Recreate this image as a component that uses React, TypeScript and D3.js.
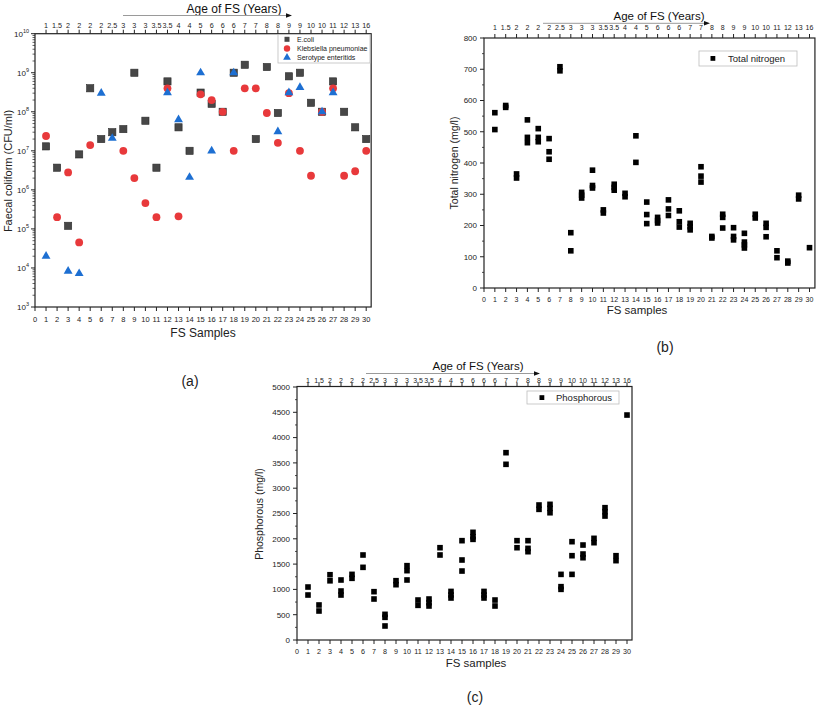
import React from 'react';
import * as d3 from 'd3';

const FONT = "Arial, 'Liberation Sans', Helvetica, sans-serif";

const samples = [1, 2, 3, 4, 5, 6, 7, 8, 9, 10, 11, 12, 13, 14, 15, 16, 17, 18, 19, 20, 21, 22, 23, 24, 25, 26, 27, 28, 29, 30];
const ageLabels = ['1', '1.5', '2', '2', '2', '2', '2.5', '3', '3', '3', '3.5', '3.5', '4', '4', '5', '6', '6', '6', '7', '7', '8', '8', '9', '9', '10', '10', '11', '12', '13', '16'];

// Panel (a): faecal coliform (CFU/ml)
const ecoli = [1.3e7, 3.7e6, 1.2e5, 8.1e6, 4e8, 2e7, 3e7, 3.6e7, 1e9, 5.9e7, 3.7e6, 6e8, 4e7, 1e7, 3.1e8, 1.6e8, 1e8, 1e9, 1.6e9, 2e7, 1.4e9, 9.3e7, 8.1e8, 1e9, 1.7e8, 1e8, 6e8, 1e8, 4e7, 2e7];
const klebsiella: (number | null)[] = [2.4e7, 2e5, 2.8e6, 4.5e4, 1.4e7, null, null, 1e7, 2e6, 4.6e5, 2e5, 4e8, 2.1e5, null, 2.8e8, 2e8, 1e8, 1e7, 4e8, 4e8, 9.3e7, 1.6e7, 3e8, 1e7, 2.3e6, 1e8, 4e8, 2.3e6, 3e6, 1e7];
const serotype: (number | null)[] = [2e4, null, 8.3e3, 7.2e3, null, 3e8, 2.1e7, null, null, null, null, 3.1e8, 6.3e7, 2.1e6, 1e9, 1e7, null, 1e9, null, null, null, 3.1e7, 3.1e8, 4.2e8, null, 1e8, 3.1e8, null, null, null];
const logDecades = [3, 4, 5, 6, 7, 8, 9, 10];

// Panel (b): total nitrogen (mg/l), replicate readings per sample
const nitrogen = [
  [561, 507], [578, 584], [365, 352], [538, 482, 465], [510, 482, 468],
  [478, 436, 412], [708, 695], [177, 119], [306, 297, 288], [377, 328, 320],
  [250, 240], [332, 322, 313], [303, 292], [487, 402], [275, 235, 206],
  [226, 216, 208], [282, 253, 232], [247, 212, 195], [207, 196, 186], [388, 358, 339],
  [165, 160], [236, 226, 192], [193, 165, 154], [175, 147, 138, 128], [236, 224],
  [207, 194, 164], [119, 97], [86, 80], [297, 285], [129],
];
const nitrogenTicks = [0, 100, 200, 300, 400, 500, 600, 700, 800];

// Panel (c): phosphorous (mg/l)
const phosphorous = [
  [1047, 889], [692, 573], [1290, 1170], [1186, 968, 889], [1297, 1219],
  [1680, 1436], [955, 810], [507, 448, 277], [1172, 1093], [1469, 1370, 1186],
  [790, 685], [810, 737, 672], [1824, 1680], [960, 890, 830], [1963, 1581, 1363],
  [2128, 2041, 1989], [960, 889, 830], [790, 672], [3702, 3472], [1963, 1824],
  [1963, 1811, 1745], [2668, 2582], [2681, 2602, 2515], [1297, 1054, 1001], [1943, 1666, 1297],
  [1877, 1699, 1626], [2009, 1923], [2615, 2536, 2450], [1666, 1568], [4446],
];
const phosTicks = [0, 500, 1000, 1500, 2000, 2500, 3000, 3500, 4000, 4500, 5000];

const xTickVals = [0, ...samples];
const AXIS = '#222';

type Sc = d3.ScaleLinear<number, number>;

function FrameX({ x, y0, y1, xRight, labelY, fs }: { x: Sc; y0: number; y1: number; xRight: number; labelY: number; fs: number }) {
  const x0 = x(0);
  return (
    <g>
      <rect x={x0} y={y1} width={xRight - x0} height={y0 - y1} fill="none" stroke={AXIS} strokeWidth={1.2} />
      {xTickVals.map((v) => (
        <g key={v}>
          <line x1={x(v)} x2={x(v)} y1={y0} y2={y0 + 4} stroke={AXIS} strokeWidth={1} />
          <text x={x(v)} y={labelY} fontSize={fs} textAnchor="middle" fontFamily={FONT} fill="#222">{v}</text>
        </g>
      ))}
      {samples.map((v) => (
        <line key={'t' + v} x1={x(v)} x2={x(v)} y1={y1} y2={y1 - 4} stroke={AXIS} strokeWidth={1} />
      ))}
    </g>
  );
}

function AgeHeader({ x, labelY, titleX, titleY, arrowX1, arrowX2, arrowY, fs, tfs }: any) {
  return (
    <g fontFamily={FONT}>
      {samples.map((v, i) => (
        <text key={v} x={x(v)} y={labelY} fontSize={fs} textAnchor="middle" fill="#222">{ageLabels[i]}</text>
      ))}
      <text x={titleX} y={titleY} fontSize={tfs} textAnchor="middle" fill="#111">Age of FS (Years)</text>
      <line x1={arrowX1} x2={arrowX2 - 4} y1={arrowY} y2={arrowY} stroke="#9a9a9a" strokeWidth={1} />
      <path d={`M${arrowX2},${arrowY} L${arrowX2 - 6},${arrowY - 2.2} L${arrowX2 - 6},${arrowY + 2.2} Z`} fill="#111" />
    </g>
  );
}

export default function App() {
  // ---------- Panel (a) ----------
  const xa = d3.scaleLinear().domain([0, 30]).range([35, 366.2]);
  const ya = d3.scaleLog().domain([1e3, 1e10]).range([307, 33.7]);
  const minorA: number[] = [];
  logDecades.slice(0, -1).forEach((d) => {
    for (let m = 2; m <= 9; m++) minorA.push(m * Math.pow(10, d));
  });
  const tri = d3.symbol(d3.symbolTriangle, 34)() as string;

  // ---------- Panel (b) ----------
  const xb = d3.scaleLinear().domain([0, 30]).range([484, 809.5]);
  const yb = d3.scaleLinear().domain([0, 800]).range([288, 38]);

  // ---------- Panel (c) ----------
  const xc = d3.scaleLinear().domain([0, 30]).range([297, 627]);
  const yc = d3.scaleLinear().domain([0, 5000]).range([640, 387]);

  const sq = 5.6;

  return (
    <svg width={817} height={707} style={{ position: 'absolute', left: 0, top: 0, background: '#fff' }} fontFamily={FONT}>
      <rect width={817} height={707} fill="#fff" />

      {/* ================= (a) ================= */}
      <AgeHeader x={xa} labelY={27.5} titleX={234} titleY={12.5} arrowX1={123} arrowX2={292} arrowY={15.5} fs={7.2} tfs={12} />
      <FrameX x={xa} y0={307} y1={33.7} xRight={xa(30.45)} labelY={322} fs={7.5} />
      {logDecades.map((d) => (
        <g key={d}>
          <line x1={35} x2={31} y1={ya(Math.pow(10, d))} y2={ya(Math.pow(10, d))} stroke={AXIS} strokeWidth={1} />
          <text x={29} y={ya(Math.pow(10, d)) + 3} fontSize={8} textAnchor="end" fill="#222">
            10<tspan dy={-4} fontSize={5.5}>{d}</tspan>
          </text>
        </g>
      ))}
      {minorA.map((v) => (
        <line key={v} x1={35} x2={32.5} y1={ya(v)} y2={ya(v)} stroke={AXIS} strokeWidth={0.7} />
      ))}
      <text transform={`translate(12,171) rotate(-90)`} fontSize={11} textAnchor="middle" fill="#222">Faecal coliform (CFU/ml)</text>
      <text x={(35 + 371) / 2} y={337} fontSize={12} textAnchor="middle" fill="#222">FS Samples</text>
      <text x={190} y={386} fontSize={14} textAnchor="middle" fill="#222">(a)</text>

      {ecoli.map((v, i) => (
        <rect key={'e' + i} x={xa(samples[i]) - 3.6} y={ya(v) - 3.6} width={7.2} height={7.2} fill="#474747" stroke="#2b2b2b" strokeWidth={0.6} />
      ))}
      {klebsiella.map((v, i) =>
        v == null ? null : <circle key={'k' + i} cx={xa(samples[i])} cy={ya(v)} r={3.9} fill="#e8393b" />
      )}
      {serotype.map((v, i) =>
        v == null ? null : <path key={'s' + i} d={tri} transform={`translate(${xa(samples[i])},${ya(v)})`} fill="#1d6fd2" />
      )}
      {/* legend (a) */}
      <g>
        <rect x={278} y={34.5} width={92} height={28.5} fill="#fff" stroke="#bdbdbd" strokeWidth={0.8} />
        <rect x={284.5} y={36.8} width={5} height={5} fill="#474747" />
        <text x={297} y={41.8} fontSize={7} fill="#222">E.coli</text>
        <circle cx={287} cy={48.5} r={3.2} fill="#e8393b" />
        <text x={297} y={50.8} fontSize={7} fill="#222">Klebsiella pneumoniae</text>
        <path d={d3.symbol(d3.symbolTriangle, 26)() as string} transform="translate(287,57.4)" fill="#1d6fd2" />
        <text x={297} y={59.6} fontSize={7} fill="#222">Serotype enteritids</text>
      </g>

      {/* ================= (b) ================= */}
      <AgeHeader x={xb} labelY={30} titleX={659} titleY={19.5} arrowX1={543} arrowX2={710} arrowY={23.3} fs={7} tfs={11.5} />
      <FrameX x={xb} y0={288} y1={38} xRight={xb(30.5)} labelY={301.5} fs={7} />
      {nitrogenTicks.map((t) => (
        <g key={t}>
          <line x1={484} x2={480} y1={yb(t)} y2={yb(t)} stroke={AXIS} strokeWidth={1} />
          <text x={477} y={yb(t) + 2.8} fontSize={8} textAnchor="end" fill="#222">{t}</text>
        </g>
      ))}
      {nitrogenTicks.slice(0, -1).map((t) => (
        <line key={'m' + t} x1={484} x2={482} y1={yb(t + 50)} y2={yb(t + 50)} stroke={AXIS} strokeWidth={0.8} />
      ))}
      <text transform={`translate(458,163) rotate(-90)`} fontSize={10.5} textAnchor="middle" fill="#222">Total nitrogen (mg/l)</text>
      <text x={637} y={314} fontSize={11.5} textAnchor="middle" fill="#222">FS samples</text>
      <text x={665} y={352} fontSize={14} textAnchor="middle" fill="#222">(b)</text>
      {nitrogen.map((vals, i) =>
        vals.map((v, j) => (
          <rect key={`n${i}-${j}`} x={xb(samples[i]) - sq / 2} y={yb(v) - sq / 2} width={sq} height={sq} fill="#000" />
        ))
      )}
      <g>
        <rect x={699} y={51} width={98} height={15} fill="#fff" stroke="#bdbdbd" strokeWidth={0.8} />
        <rect x={710.5} y={56} width={4.8} height={4.8} fill="#000" />
        <text x={728} y={61.8} fontSize={9.5} fill="#222">Total nitrogen</text>
      </g>

      {/* ================= (c) ================= */}
      <AgeHeader x={xc} labelY={382.5} titleX={478} titleY={370} arrowX1={366} arrowX2={540} arrowY={373.5} fs={7} tfs={11.5} />
      <FrameX x={xc} y0={640} y1={386.5} xRight={632} labelY={653.5} fs={7.2} />
      {phosTicks.map((t) => (
        <g key={t}>
          <line x1={297} x2={293} y1={yc(t)} y2={yc(t)} stroke={AXIS} strokeWidth={1} />
          <text x={290} y={yc(t) + 2.8} fontSize={8} textAnchor="end" fill="#222">{t}</text>
        </g>
      ))}
      {phosTicks.slice(0, -1).map((t) => (
        <line key={'m' + t} x1={297} x2={295} y1={yc(t + 250)} y2={yc(t + 250)} stroke={AXIS} strokeWidth={0.8} />
      ))}
      <text transform={`translate(263,514) rotate(-90)`} fontSize={10.5} textAnchor="middle" fill="#222">Phosphorous (mg/l)</text>
      <text x={476} y={667} fontSize={11.5} textAnchor="middle" fill="#222">FS samples</text>
      <text x={475} y={702} fontSize={14} textAnchor="middle" fill="#222">(c)</text>
      {phosphorous.map((vals, i) =>
        vals.map((v, j) => (
          <rect key={`p${i}-${j}`} x={xc(samples[i]) - sq / 2} y={yc(v) - sq / 2} width={sq} height={sq} fill="#000" />
        ))
      )}
      <g>
        <rect x={527} y={391} width={92} height={13} fill="#fff" stroke="#bdbdbd" strokeWidth={0.8} />
        <rect x={539.5} y={395.2} width={4.8} height={4.8} fill="#000" />
        <text x={556} y={401.2} fontSize={9.5} fill="#222">Phosphorous</text>
      </g>
    </svg>
  );
}
